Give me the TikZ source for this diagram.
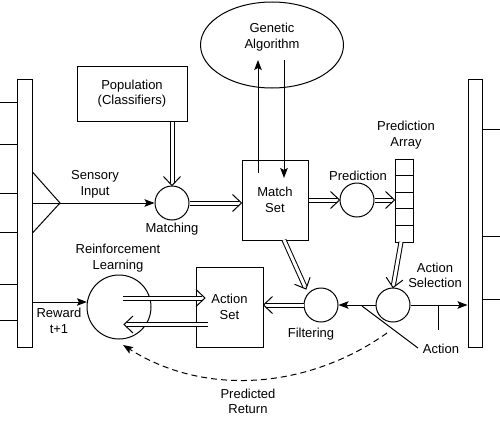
\documentclass[tikz,border=0pt]{standalone}
\usepackage{fontspec}
\setmainfont{Liberation Sans}
\usetikzlibrary{arrows.meta,shapes.geometric,calc}
\newcommand\dblar[2]{%
  \draw[dbl] (#1) -- (#2);
  \draw[chev] ($(#2)!9pt!(#1)!8.5pt!90:(#1)$) -- (#2) -- ($(#2)!9pt!(#1)!8.5pt!-90:(#1)$);}
\begin{document}
\begin{tikzpicture}[x=1pt,y=-1pt,line width=1pt,
  font=\fontsize{13}{15.5}\selectfont,
  bar/.style={draw,rectangle,inner sep=0pt,minimum height=268pt},
  proc/.style={draw,circle,inner sep=0pt,minimum size=34pt},
  blk/.style={draw,rectangle,inner sep=0pt,align=center},
  lbl/.style={align=center,inner sep=0pt},
  arr/.style={-{Stealth[length=10pt,width=7.5pt,inset=2pt]}},
  dbl/.style={double,double distance=3pt,shorten >=2.6pt},
  chev/.style={line width=1pt,line join=miter}]
\useasboundingbox (0,0) rectangle (500,423);
% bars
\node[bar,minimum width=15pt] (lbar) at (24.5,213) {};
\node[bar,minimum width=14pt] (rbar) at (475,213) {};
% blocks
\node[blk,minimum width=110pt,minimum height=55pt] (pop) at (132,93.5) {Population\\(Classifiers)};
\node[proc] (match) at (172,203) {};
\node[blk,minimum width=66pt,minimum height=80pt] (mset) at (275,200) {Match\\Set};
\node[draw,ellipse,inner sep=0pt,minimum width=143pt,minimum height=86pt] (ga) at (272,45) {};
\node[lbl] (galbl) at (272,37) {Genetic\\Algorithm};
\node[proc] (pred) at (357,200) {};
\node[draw,inner sep=0pt,minimum width=18pt,minimum height=83pt] (parr) at (404,200.5) {};
\foreach \y in {175.6,192.2,208.8,225.4} \draw (parr.west |- 0,\y) -- (parr.east |- 0,\y);
\node[proc] (filt) at (321,305) {};
\node[proc] (asel) at (393,305) {};
\node[blk,minimum width=67pt,minimum height=80pt] (aset) at (229.5,307) {Action\\Set};
\node[draw,circle,inner sep=0pt,minimum size=64pt] (rl) at (119,307) {};
% labels
\node[lbl] (senslbl) at (95,184.5) {Sensory\\Input};
\node[lbl] (matchlbl) at (172,229) {Matching};
\node[lbl] (predlbl) at (358,176) {Prediction};
\node[lbl] (parrlbl) at (406,135) {Prediction\\Array};
\node[lbl] (filtlbl) at (311,334) {Filtering};
\node[lbl] (asellbl) at (435,275.5) {Action\\Selection};
\node[lbl] (actlbl) at (441,349) {Action};
\node[lbl] (rllbl) at (118,258) {Reinforcement\\Learning};
\node[lbl] (rewlbl) at (59,321) {Reward\\t+1};
\node[lbl] (retlbl) at (248,401.5) {Predicted\\Return};
% ticks and triangle
\foreach \y in {102,144,193,232,284,320} \draw (0,\y) -- (lbar.west |- 0,\y);
\foreach \y in {129,236,299} \draw (rbar.east |- 0,\y) -- (500,\y);
\draw (lbar.east |- 0,172) -- (60,203) -- (lbar.east |- 0,233);
% single connectors
\coordinate (sin) at (lbar.east |- match.west);
\draw[arr] (sin) -- (match.west);
\coordinate (gaA) at (258,173); \coordinate (gaB) at (258,60);
\coordinate (gaC) at (284,60);  \coordinate (gaD) at (284,178);
\draw[arr] (gaA) -- (gaB);
\draw[arr] (gaC) -- (gaD);
\draw[arr] (asel.west) -- (filt.east);
\draw[arr] (asel.east) -- (asel.east -| rbar.west);
\coordinate (av) at (438,305); \coordinate (avb) at (438,330);
\draw (av) -- (avb);
\coordinate (ad1) at (362,306); \coordinate (ad2) at (418,348);
\draw (ad1) -- (ad2);
\coordinate (rw) at (lbar.east |- 0,302);
\draw[arr] (rw) -- (rw -| rl.171);
\coordinate (ds) at (387,333); \coordinate (de) at (123,345);
\draw[arr,dash pattern=on 6pt off 4pt] (ds) .. controls (308,389) and (205,397) .. (de);
% double connectors
\coordinate (popout) at (pop.south -| match.north);
\coordinate (matchin) at (match.north);
\dblar{popout}{matchin}
\coordinate (matchout) at (match.east);
\coordinate (msin) at (match.east -| mset.west);
\dblar{matchout}{msin}
\coordinate (msright) at (mset.east |- pred.west);
\coordinate (predin) at (pred.west);
\dblar{msright}{predin}
\coordinate (predout) at (pred.east);
\coordinate (parrin) at (pred.east -| parr.west);
\dblar{predout}{parrin}
\coordinate (parrout) at (401,242);
\coordinate (aselin) at (asel.north);
\dblar{parrout}{aselin}
\coordinate (msout) at (284,240); \coordinate (ftip) at (306,289);
\dblar{msout}{ftip}
\coordinate (filtout) at (filt.west);
\coordinate (asetin) at (filt.west -| aset.east);
\dblar{filtout}{asetin}
\coordinate (rlA) at (123,298); \coordinate (asA) at (205,298);
\dblar{rlA}{asA}
\coordinate (asB) at (208,324.5); \coordinate (rlB) at (124,324.5);
\dblar{asB}{rlB}
\end{tikzpicture}
\end{document}
